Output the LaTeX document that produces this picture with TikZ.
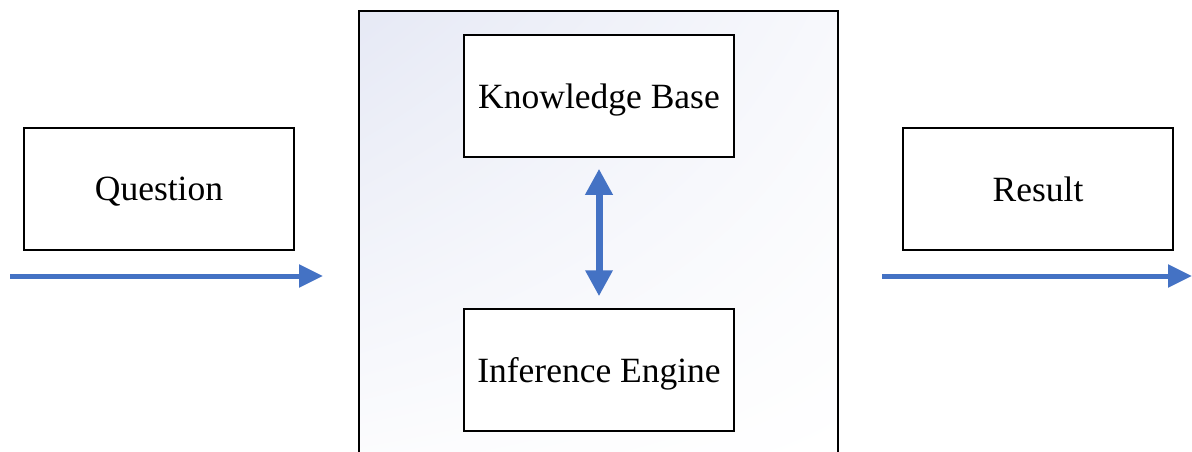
\documentclass[tikz,border=0pt]{standalone}
\usepackage{fontspec}
\setmainfont{Liberation Serif}
\usetikzlibrary{arrows.meta,shadings}
\definecolor{arrowblue}{RGB}{68,114,196}
\definecolor{shadeblue}{RGB}{230,233,245}
\begin{document}
\begin{tikzpicture}[x=1pt,y=-1pt,
  box/.style={draw=black,line width=1.5pt,minimum width=270pt,minimum height=122pt,inner sep=0pt,text depth=0pt,font=\fontsize{35.5}{40}\selectfont,fill=white},
  flow/.style={draw=arrowblue,line width=5pt,-{Triangle[width=22pt,length=24pt]}},
  biflow/.style={draw=arrowblue,line width=7pt,{Triangle[width=26pt,length=26pt]}-{Triangle[width=26pt,length=26pt]}}]
\useasboundingbox (0,0) rectangle (1192,452);
% frame
\shade[upper left=shadeblue,upper right=white!70!shadeblue,lower left=white!85!shadeblue,lower right=white] (359,11) rectangle (838,452);
\draw[line width=2pt] (359,452) -- (359,11) -- (838,11) -- (838,452);
% nodes
\node[box] (kb) at (599,96) {Knowledge Base};
\node[box] (ie) at (599,370) {Inference Engine};
\node[box] (q) at (159,189) {Question};
\node[box] (r) at (1038,189) {Result};
% connectors
\coordinate (qa) at (10,276);
\coordinate (qb) at (323,276);
\coordinate (ra) at (882,276);
\coordinate (rb) at (1192,276);
\draw[flow] (qa) -- (qb);
\draw[flow] (ra) -- (rb);
\draw[biflow] ([yshift=-11pt]kb.south) -- ([yshift=12pt]ie.north);
\end{tikzpicture}
\end{document}
